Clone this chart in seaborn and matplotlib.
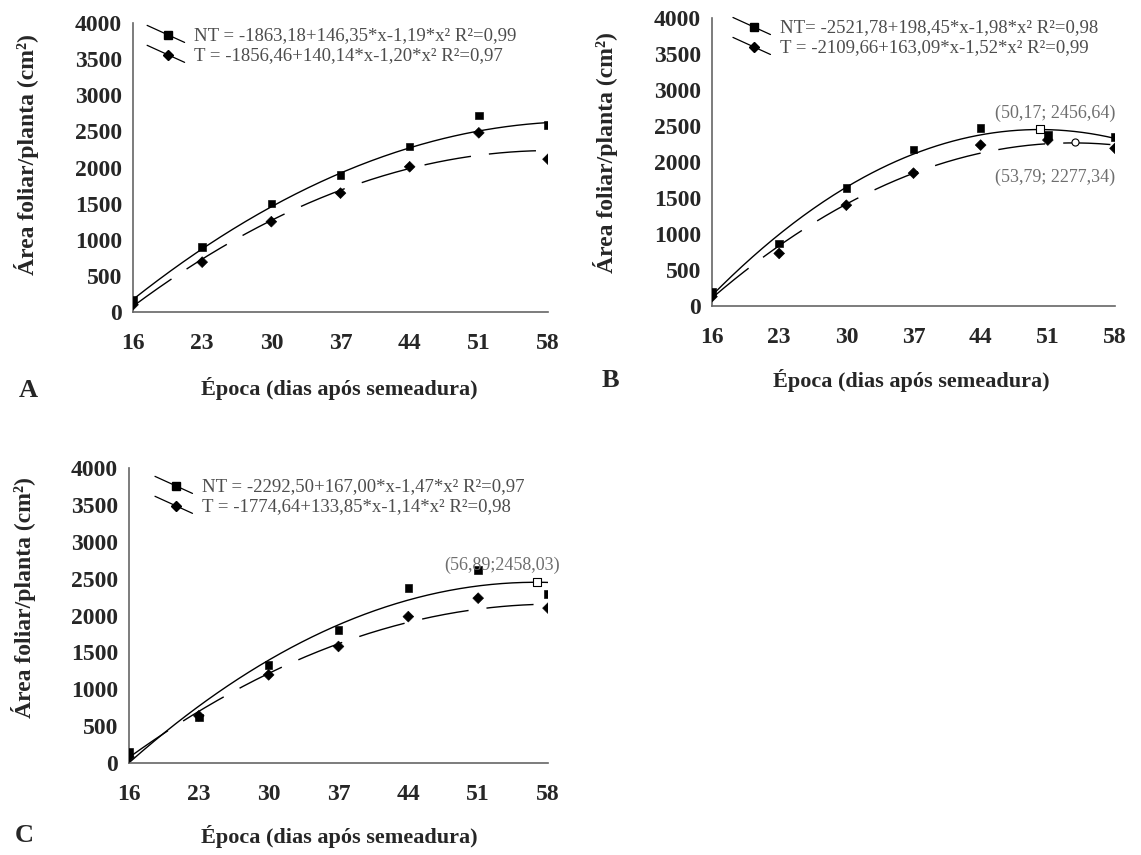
import numpy as np
import pandas as pd
import matplotlib
matplotlib.use("Agg")
import matplotlib.pyplot as plt
import seaborn as sns
from matplotlib.lines import Line2D
from matplotlib.legend_handler import HandlerLine2D

# ------------------------------------------------------------
# dados
# ------------------------------------------------------------
dias = [16, 23, 30, 37, 44, 51, 58]
y_ticks = [0, 500, 1000, 1500, 2000, 2500, 3000, 3500, 4000]

nt_a = [170, 900, 1500, 1900, 2290, 2720, 2590]
t_a = [100, 690, 1250, 1645, 2010, 2480, 2115]
coef_nt_a = [-1863.18, 146.35, -1.19]
coef_t_a = [-1856.46, 140.14, -1.20]
eq_a = ["NT = -1863,18+146,35*x-1,19*x² R²=0,99",
        "T = -1856,46+140,14*x-1,20*x² R²=0,97"]

nt_b = [200, 870, 1635, 2175, 2475, 2375, 2350]
t_b = [130, 730, 1400, 1845, 2235, 2305, 2190]
coef_nt_b = [-2521.78, 198.45, -1.98]
coef_t_b = [-2109.66, 163.09, -1.52]
eq_b = ["NT= -2521,78+198,45*x-1,98*x² R²=0,98",
        "T = -2109,66+163,09*x-1,52*x² R²=0,99"]
max_nt_b = (50.17, 2456.64)
max_t_b = (53.79, 2277.34)

nt_c = [150, 615, 1330, 1800, 2370, 2615, 2290]
t_c = [80, 640, 1195, 1580, 1985, 2235, 2100]
coef_nt_c = [-2292.50, 167.00, -1.47]
coef_t_c = [-1774.64, 133.85, -1.14]
eq_c = ["NT = -2292,50+167,00*x-1,47*x² R²=0,97",
        "T = -1774,64+133,85*x-1,14*x² R²=0,98"]
max_nt_c = (56.89, 2458.03)

# ------------------------------------------------------------
# estilo
# ------------------------------------------------------------
sns.set_style("white")
plt.rcParams["font.family"] = ["Liberation Serif", "DejaVu Serif"]

W, H = 1141, 855
fig = plt.figure(figsize=(W / 100, H / 100), dpi=100)


def px(x, y):
    return x / W, 1 - y / H


class Inclinada(HandlerLine2D):
    # linha de legenda inclinada, como no original
    def create_artists(self, legend, orig, xd, yd, w, h, fs, trans):
        x0, y0 = -xd, -yd
        linha = Line2D([x0, x0 + w], [y0 + h * 1.15, y0 - h * 0.15],
                       color="k", lw=0.9, transform=trans)
        ponto = Line2D([x0 + w * 0.55], [y0 + h * 0.4], marker=orig.get_marker(),
                       ms=orig.get_markersize(), color="k", ls="none", transform=trans)
        return [linha, ponto]


def painel(rect, nt, t, coef_nt, coef_t, eqs, leg_pos):
    ax = fig.add_axes(rect)
    df = pd.DataFrame({"dia": dias * 2, "area": nt + t,
                       "trat": ["NT"] * len(dias) + ["T"] * len(dias)})
    xs = np.linspace(dias[0], dias[-1], 200)
    sns.lineplot(x=xs, y=np.polyval(coef_nt[::-1], xs), ax=ax, color="k", lw=1.0)
    sns.lineplot(x=xs, y=np.polyval(coef_t[::-1], xs), ax=ax, color="k", lw=1.0,
                 linestyle=(0, (34, 13)))
    sns.scatterplot(data=df, x="dia", y="area", style="trat",
                    markers={"NT": "s", "T": "D"}, color="k", s=30,
                    edgecolor="k", ax=ax, legend=False, zorder=3)
    ax.set_xlim(dias[0], dias[-1])
    ax.set_ylim(0, 4000)
    ax.set_xticks(dias)
    ax.set_yticks(y_ticks)
    ax.set_xlabel("")
    ax.set_ylabel("")
    for s in ["top", "right"]:
        ax.spines[s].set_visible(False)
    for s in ["left", "bottom"]:
        ax.spines[s].set_color("#666666")
        ax.spines[s].set_linewidth(1.2)
    ax.tick_params(axis="both", length=0, labelsize=17)
    ax.tick_params(axis="x", pad=15)
    ax.tick_params(axis="y", pad=8)
    for lab in ax.get_xticklabels() + ax.get_yticklabels():
        lab.set_fontweight("bold")
    handles = [Line2D([], [], marker="s", ms=6, color="k"),
               Line2D([], [], marker="D", ms=5, color="k")]
    ax.legend(handles, eqs, handler_map={Line2D: Inclinada()}, loc="upper left",
              bbox_to_anchor=leg_pos, frameon=False, fontsize=13.5,
              labelcolor="#4d4d4d", handlelength=2.0, handletextpad=0.5,
              labelspacing=0.15, borderpad=0, borderaxespad=0)
    return ax


ax_a = painel([133 / W, 1 - 312 / H, 415 / W, 289 / H], nt_a, t_a,
              coef_nt_a, coef_t_a, eq_a, (0.034, 0.985))
ax_b = painel([712 / W, 1 - 306 / H, 403 / W, 288 / H], nt_b, t_b,
              coef_nt_b, coef_t_b, eq_b, (0.052, 0.995))
ax_c = painel([129 / W, 1 - 763 / H, 419 / W, 295 / H], nt_c, t_c,
              coef_nt_c, coef_t_c, eq_c, (0.062, 0.965))

# pontos de maximo
ax_b.scatter([max_nt_b[0]], [max_nt_b[1]], marker="s", s=30, facecolor="white",
             edgecolor="k", lw=0.8, zorder=4)
ax_b.scatter([max_t_b[0]], [max_t_b[1]], marker="o", s=26, facecolor="white",
             edgecolor="k", lw=0.8, zorder=4)
ax_c.scatter([max_nt_c[0]], [max_nt_c[1]], marker="s", s=30, facecolor="white",
             edgecolor="k", lw=0.8, zorder=4)

cinza = "#6e6e6e"
ax_b.text(58, 2680, "(50,17; 2456,64)", ha="right", va="center", fontsize=13,
          color=cinza, clip_on=False)
ax_b.text(58, 1790, "(53,79; 2277,34)", ha="right", va="center", fontsize=13,
          color=cinza, clip_on=False)
ax_c.text(59.2, 2685, "(56,89;2458,03)", ha="right", va="center", fontsize=13,
          color=cinza, clip_on=False)

# rotulos
xlab = "Época (dias após semeadura)"
ylab = "Área foliar/planta (cm²)"
for (xx, yy) in [(339, 388), (911, 380), (339, 836)]:
    fig.text(*px(xx, yy), xlab, ha="center", va="center", fontsize=16,
             fontweight="bold")
for (xx, yy) in [(27, 155), (606, 153), (24, 598)]:
    fig.text(*px(xx, yy), ylab, ha="center", va="center", fontsize=17,
             fontweight="bold", rotation=90)
for letra, (xx, yy) in zip("ABC", [(28, 390), (610, 380), (24, 835)]):
    fig.text(*px(xx, yy), letra, ha="center", va="center", fontsize=19,
             fontweight="bold")

fig.savefig("out.png", dpi=100)
